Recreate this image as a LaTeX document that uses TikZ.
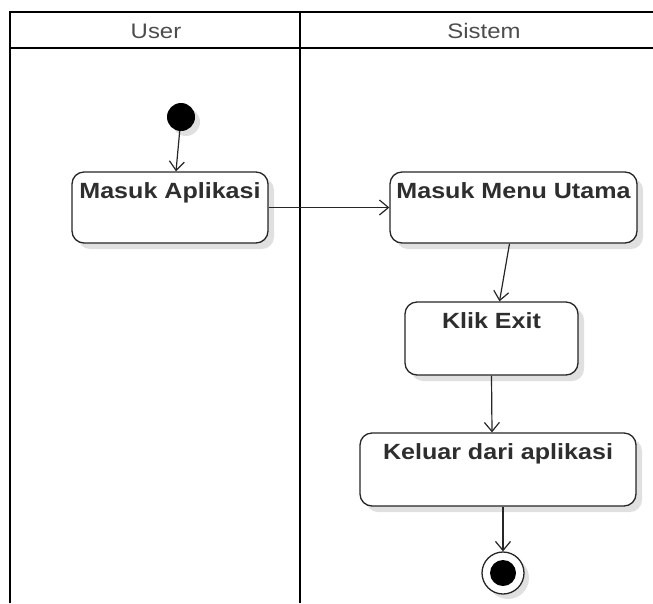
\documentclass[tikz,border=0pt]{standalone}
\usepackage{fontspec}
\setmainfont{Liberation Sans}
\newfontfamily\widefont[FakeStretch=1.14]{Liberation Sans}
\usetikzlibrary{arrows.meta,shadows,positioning}
\begin{document}
\begin{tikzpicture}[x=1pt,y=-1pt,
  lane/.style={line width=2.8pt,black},
  act/.style={draw=black!85,line width=1.3pt,rounded corners=12pt,fill=white,
    drop shadow={shadow xshift=6pt,shadow yshift=-6pt,fill=black!12,opacity=1},
    inner sep=0pt},
  acttext/.style={font=\widefont\fontsize{22}{24}\selectfont\bfseries,text=black!82,inner sep=0pt,anchor=north},
  flow/.style={line width=1.2pt,black!85,-{Straight Barb[length=9pt,width=15pt,line width=1.2pt]}},
  hdr/.style={font=\widefont\fontsize{21}{23}\selectfont,text=black!70}]
\useasboundingbox (0,0) rectangle (653,603);
% swimlanes
\draw[lane] (10,603) -- (10,12) -- (653,12);
\draw[lane] (10,48) -- (653,48);
\draw[lane] (300,12) -- (300,603);
\node[hdr] (huser) at (156,31) {User};
\node[hdr] (hsys) at (484,31) {Sistem};
% start
\node[circle,fill=black,minimum size=28pt,inner sep=0pt,
  drop shadow={shadow xshift=5pt,shadow yshift=-5pt,fill=black!12,opacity=1}] (start) at (181,117) {};
% activities
\node[act,minimum width=196pt,minimum height=71pt] (ma) at (170,207.5) {};
\node[acttext] (tma) at ([yshift=-11pt]ma.north) {Masuk Aplikasi};
\node[act,minimum width=247pt,minimum height=71pt] (mmu) at (513.5,207.5) {};
\node[acttext] (tmmu) at ([yshift=-11pt]mmu.north) {Masuk Menu Utama};
\node[act,minimum width=173pt,minimum height=73pt] (ke) at (491.5,338.5) {};
\node[acttext] (tke) at ([yshift=-11pt]ke.north) {Klik Exit};
\node[act,minimum width=276pt,minimum height=73pt] (kd) at (498,469.5) {};
\node[acttext] (tkd) at ([yshift=-11pt]kd.north) {Keluar dari aplikasi};
% end
\node[circle,draw=black!85,line width=1.3pt,fill=white,minimum size=42pt,inner sep=0pt,
  drop shadow={shadow xshift=5pt,shadow yshift=-5pt,fill=black!12,opacity=1}] (end) at (503,573) {};
\node[circle,fill=black,minimum size=26pt,inner sep=0pt] (endin) at (end) {};
% flows
\draw[flow] (start) -- ([xshift=6pt]ma.north);
\draw[flow] (ma.east) -- (mmu.west);
\draw[flow] ([xshift=-4pt]mmu.south) -- ([xshift=8pt]ke.north);
\draw[flow] (ke.south) -- ([xshift=-6pt]kd.north);
\draw[flow] ([xshift=5pt]kd.south) -- (end.north);
\end{tikzpicture}
\end{document}
